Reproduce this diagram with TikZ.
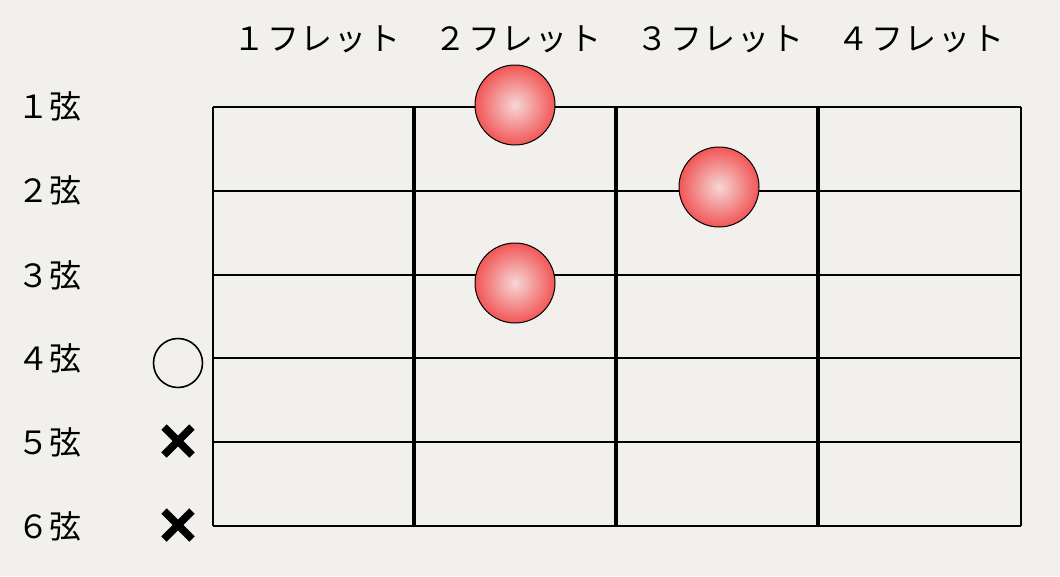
\documentclass[tikz,border=0pt]{standalone}
\usepackage{fontspec}
\setmainfont{Noto Sans CJK JP}
\definecolor{bgcol}{HTML}{F1F0EC}
\definecolor{ballin}{HTML}{F6D6D6}
\definecolor{ballout}{HTML}{F25656}
\begin{document}
\begin{tikzpicture}[x=1pt,y=-1pt]
\tikzset{
  lbl/.style={font=\fontsize{32}{32}\selectfont, inner sep=0pt, anchor=center},
  hdr/.style={font=\fontsize{32}{32}\selectfont\addfontfeature{LetterSpace=5}, inner sep=0pt, anchor=center},
  ball/.style={circle, draw=black, line width=1pt, minimum size=80pt, inner sep=0pt, inner color=ballin, outer color=ballout},
  openmark/.style={circle, draw=black, line width=1.6pt, minimum size=49pt, inner sep=0pt},
  xmark/.style={line width=7.5pt, line cap=butt},
  fretline/.style={line width=3.2pt},
  strline/.style={line width=2.2pt},
}
\fill[bgcol] (0,0) rectangle (1060,576);
\useasboundingbox (0,0) rectangle (1060,576);
% strings (horizontal)
\foreach \yy in {107,191,275,358,442,526}
  \draw[strline] (213,\yy) -- (1021,\yy);
% frets (vertical)
\draw[strline] (213,107) -- (213,526);
\draw[strline] (1021,107) -- (1021,526);
\foreach \xx in {414,616,818}
  \draw[fretline] (\xx,107) -- (\xx,526);
% header labels
\node[hdr] (f1) at (317,39) {１フレット};
\node[hdr] (f2) at (518,39) {２フレット};
\node[hdr] (f3) at (720,39) {３フレット};
\node[hdr] (f4) at (921,39) {４フレット};
% string labels
\node[lbl] (s1) at (49,106) {１弦};
\node[lbl] (s2) at (49,190) {２弦};
\node[lbl] (s3) at (49,275) {３弦};
\node[lbl] (s4) at (49,358) {４弦};
\node[lbl] (s5) at (49,442) {５弦};
\node[lbl] (s6) at (49,526) {６弦};
% finger positions
\node[ball] (b1) at (515,105) {};
\node[ball] (b2) at (719,187) {};
\node[ball] (b3) at (515,283) {};
% open / muted marks
\node[openmark] (o4) at (178,363) {};
\coordinate (x5) at (178,441);
\coordinate (x6) at (178,525);
\foreach \c in {x5,x6} {
  \draw[xmark] ([shift={(-14,-14)}]\c) -- ([shift={(14,14)}]\c);
  \draw[xmark] ([shift={(-14,14)}]\c) -- ([shift={(14,-14)}]\c);
}
\end{tikzpicture}
\end{document}
